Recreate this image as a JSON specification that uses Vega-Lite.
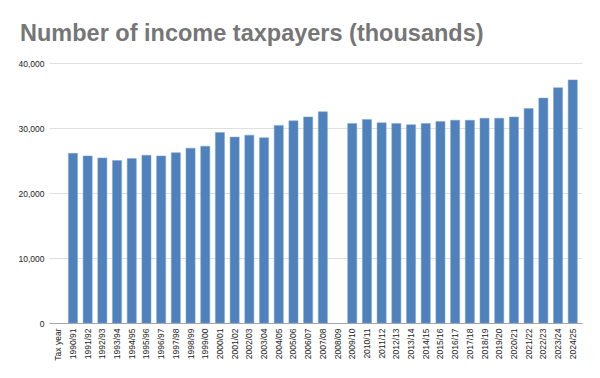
{
  "$schema": "https://vega.github.io/schema/vega-lite/v6.json",
  "width": 533,
  "height": 260,
  "autosize": {"type": "none"},
  "padding": {"left": 49, "top": 63, "right": 18, "bottom": 55},
  "background": "white",
  "title": {
    "text": "Number of income taxpayers (thousands)",
    "anchor": "start",
    "frame": "group",
    "dx": -29,
    "offset": 14,
    "font": "Liberation Sans",
    "fontSize": 23.5,
    "fontWeight": "bold",
    "color": "#767676"
  },
  "data": {
    "values": [
      {"year": "1990/91", "taxpayers": 26100},
      {"year": "1991/92", "taxpayers": 25700},
      {"year": "1992/93", "taxpayers": 25400},
      {"year": "1993/94", "taxpayers": 25000},
      {"year": "1994/95", "taxpayers": 25300},
      {"year": "1995/96", "taxpayers": 25800},
      {"year": "1996/97", "taxpayers": 25700},
      {"year": "1997/98", "taxpayers": 26200},
      {"year": "1998/99", "taxpayers": 26900},
      {"year": "1999/00", "taxpayers": 27200},
      {"year": "2000/01", "taxpayers": 29300},
      {"year": "2001/02", "taxpayers": 28600},
      {"year": "2002/03", "taxpayers": 28900},
      {"year": "2003/04", "taxpayers": 28500},
      {"year": "2004/05", "taxpayers": 30400},
      {"year": "2005/06", "taxpayers": 31100},
      {"year": "2006/07", "taxpayers": 31700},
      {"year": "2007/08", "taxpayers": 32500},
      {"year": "2009/10", "taxpayers": 30700},
      {"year": "2010/11", "taxpayers": 31300},
      {"year": "2011/12", "taxpayers": 30800},
      {"year": "2012/13", "taxpayers": 30700},
      {"year": "2013/14", "taxpayers": 30500},
      {"year": "2014/15", "taxpayers": 30700},
      {"year": "2015/16", "taxpayers": 31000},
      {"year": "2016/17", "taxpayers": 31200},
      {"year": "2017/18", "taxpayers": 31200},
      {"year": "2018/19", "taxpayers": 31500},
      {"year": "2019/20", "taxpayers": 31500},
      {"year": "2020/21", "taxpayers": 31700},
      {"year": "2021/22", "taxpayers": 33000},
      {"year": "2022/23", "taxpayers": 34600},
      {"year": "2023/24", "taxpayers": 36200},
      {"year": "2024/25", "taxpayers": 37400}
    ]
  },
  "mark": {"type": "bar", "color": "#4F81BD", "stroke": "#7FA3D0", "strokeWidth": 0.5},
  "encoding": {
    "x": {
      "field": "year",
      "type": "nominal",
      "title": null,
      "scale": {
        "domain": ["Tax year", "1990/91", "1991/92", "1992/93", "1993/94", "1994/95", "1995/96", "1996/97", "1997/98", "1998/99", "1999/00", "2000/01", "2001/02", "2002/03", "2003/04", "2004/05", "2005/06", "2006/07", "2007/08", "2008/09", "2009/10", "2010/11", "2011/12", "2012/13", "2013/14", "2014/15", "2015/16", "2016/17", "2017/18", "2018/19", "2019/20", "2020/21", "2021/22", "2022/23", "2023/24", "2024/25"],
        "paddingInner": 0.38,
        "paddingOuter": 0.32
      },
      "axis": {
        "labelAngle": -90,
        "labelAlign": "right",
        "labelBaseline": "middle",
        "labelFont": "Liberation Sans",
        "labelFontSize": 8.5,
        "labelColor": "#222222",
        "labelPadding": 5,
        "ticks": false,
        "domainColor": "#A6A6A6",
        "domainWidth": 1,
        "grid": false
      }
    },
    "y": {
      "field": "taxpayers",
      "type": "quantitative",
      "title": null,
      "scale": {"domain": [0, 40000]},
      "axis": {
        "values": [0, 10000, 20000, 30000, 40000],
        "format": ",.0f",
        "labelFont": "Liberation Sans",
        "labelFontSize": 8.5,
        "labelColor": "#222222",
        "labelPadding": 5,
        "ticks": false,
        "domain": false,
        "gridColor": "#E0E0E0",
        "gridWidth": 1
      }
    }
  },
  "config": {"view": {"stroke": null}}
}
